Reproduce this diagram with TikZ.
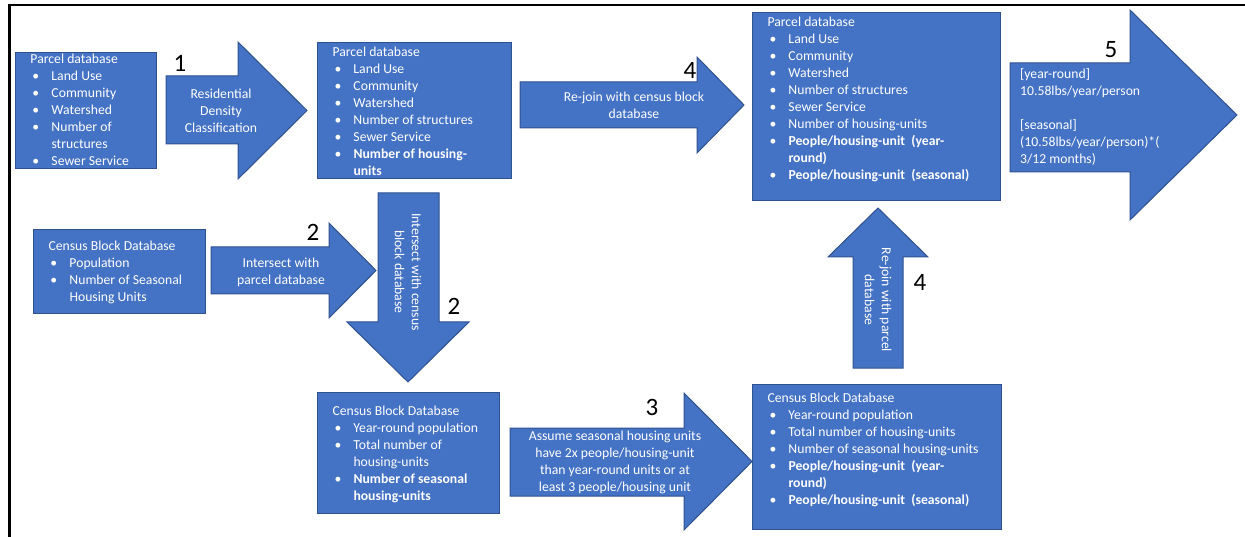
\documentclass[tikz,border=0pt]{standalone}
\usepackage{fontspec}
\setmainfont{Carlito}
\definecolor{boxblue}{HTML}{4472C4}
\definecolor{boxline}{HTML}{2F528F}
\newcommand{\boxfont}{\fontsize{13.7}{17}\selectfont}
\newcommand{\dbtext}[4]{\parbox[c][#2pt][t]{#1pt}{\raggedright\rule{0pt}{#3pt}#4}}
\newcommand{\dbtitle}[1]{\hspace*{15pt}#1}
\newcommand{\dbitem}[1]{\makebox[36pt][l]{\hspace*{17pt}\textbullet}#1}
\newcommand{\dbcont}[1]{\hspace*{36pt}#1}
\tikzset{
  dbbox/.style={draw=boxline,fill=boxblue,line width=1pt,text=white,inner sep=0pt,anchor=north west,font=\boxfont},
  blockarrow/.style={draw=boxline,fill=boxblue,line width=1pt},
  arrowtext/.style={text=white,align=center,font=\boxfont,inner sep=0pt},
  steplabel/.style={font=\fontsize{25}{30}\selectfont,inner sep=0pt},
}

\begin{document}
\begin{tikzpicture}[x=1pt,y=-1pt]
		% Parcel / census block workflow
		\useasboundingbox (0,0) rectangle (1245,537);
		\draw[line width=2.5pt] (1245,5) -- (9.5,5) -- (9.5,537);

		\node[dbbox] (ParcelIn) at (15,52) {\dbtext{141}{116}{11}{\dbtitle{Parcel database}\\
			\dbitem{Land Use}\\ \dbitem{Community}\\ \dbitem{Watershed}\\
			\dbitem{Number of}\\ \dbcont{structures}\\ \dbitem{Sewer Service}}};
		\node[dbbox] (ParcelUnits) at (317,42) {\dbtext{194}{136}{14}{\dbtitle{Parcel database}\\
			\dbitem{Land Use}\\ \dbitem{Community}\\ \dbitem{Watershed}\\
			\dbitem{Number of structures}\\ \dbitem{Sewer Service}\\
			\dbitem{\textbf{Number of housing-}}\\ \dbcont{\textbf{units}}}};
		\node[dbbox] (CensusIn) at (33,229) {\dbtext{172}{84}{21}{\dbtitle{Census Block Database}\\
			\dbitem{Population}\\ \dbitem{Number of Seasonal}\\ \dbcont{Housing Units}}};
		\node[dbbox] (CensusUnits) at (317,392) {\dbtext{182}{121}{23}{\dbtitle{Census Block Database}\\
			\dbitem{Year-round population}\\ \dbitem{Total number of}\\ \dbcont{housing-units}\\
			\dbitem{\textbf{Number of seasonal}}\\ \dbcont{\textbf{housing-units}}}};
		\node[dbbox] (CensusRates) at (752,384) {\dbtext{249}{145}{18}{\dbtitle{Census Block Database}\\
			\dbitem{Year-round population}\\ \dbitem{Total number of housing-units}\\
			\dbitem{Number of seasonal housing-units}\\
			\dbitem{\textbf{People/housing-unit\ \ (year-}}\\ \dbcont{\textbf{round)}}\\
			\dbitem{\textbf{People/housing-unit\ \ (seasonal)}}}};
		\node[dbbox] (ParcelOut) at (752,12) {\dbtext{248}{188}{14}{\dbtitle{Parcel database}\\
			\dbitem{Land Use}\\ \dbitem{Community}\\ \dbitem{Watershed}\\
			\dbitem{Number of structures}\\ \dbitem{Sewer Service}\\
			\dbitem{Number of housing-units}\\
			\dbitem{\textbf{People/housing-unit\ \ (year-}}\\ \dbcont{\textbf{round)}}\\
			\dbitem{\textbf{People/housing-unit\ \ (seasonal)}}}};

		\draw[blockarrow] (166,76) -- (238,76) -- (238,42) -- (307,110.5) -- (238,179) -- (238,144) -- (166,144) -- cycle;
		\node[arrowtext] (Classify) at (221,111) {Residential\\Density\\Classification};
		\node[steplabel] (One) at (180,63) {1};

		\draw[blockarrow] (211,247) -- (329,247) -- (329,223) -- (376,270.5) -- (329,318) -- (329,294) -- (211,294) -- cycle;
		\node[arrowtext] (IntersectParcel) at (281,272) {Intersect with\\parcel database};
		\node[steplabel] (TwoA) at (313,232) {2};

		\draw[blockarrow] (378,193) -- (439,193) -- (439,322) -- (469,322) -- (408,382) -- (347,322) -- (378,322) -- cycle;
		\node[arrowtext,rotate=-90] (IntersectCensus) at (408,272) {Intersect with census\\block database};
		\node[steplabel] (TwoB) at (454,306) {2};

		\draw[blockarrow] (510,428) -- (684,428) -- (684,393) -- (752,461.5) -- (684,530) -- (684,496) -- (510,496) -- cycle;
		\node[arrowtext] (AssumeRates) at (615,462) {Assume seasonal housing units\\have 2x people/housing-unit\\than year-round units or at\\least 3 people/housing unit};
		\node[steplabel] (Three) at (652,407) {3};

		\draw[blockarrow] (853,368) -- (853,257) -- (828,257) -- (878,208) -- (928,257) -- (903,257) -- (903,368) -- cycle;
		\node[arrowtext,rotate=-90] (RejoinParcel) at (878,300) {Re-join with parcel\\database};
		\node[steplabel] (FourB) at (920,282) {4};

		\draw[blockarrow] (520,82) -- (697,82) -- (697,57) -- (744,105) -- (697,153) -- (697,128) -- (520,128) -- cycle;
		\node[arrowtext] (RejoinCensus) at (634,105) {Re-join with census block\\database};
		\node[steplabel] (FourA) at (690,70) {4};

		\draw[blockarrow] (1010,63) -- (1130,63) -- (1130,10) -- (1237,115) -- (1130,220) -- (1130,172) -- (1010,172) -- cycle;
		\node[arrowtext,align=left,anchor=west] (Loading) at (1020,117) {[year-round]\\10.58lbs/year/person\\[17pt][seasonal]\\(10.58lbs/year/person)*(\\3/12 months)};
		\node[steplabel] (Five) at (1111,50) {5};
\end{tikzpicture}
\end{document}
